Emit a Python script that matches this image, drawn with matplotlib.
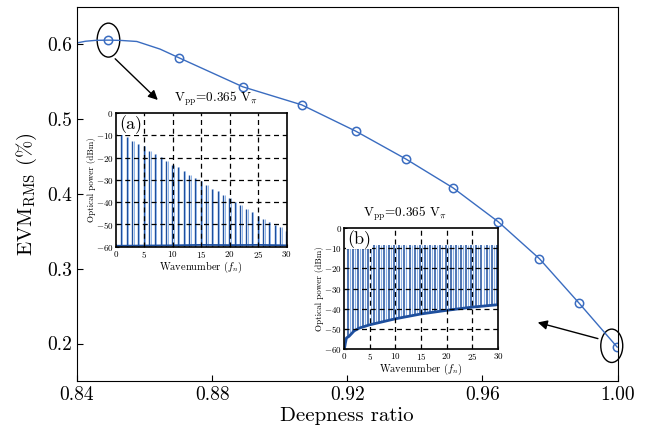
import matplotlib
matplotlib.use("Agg")
import matplotlib.pyplot as plt
from matplotlib.patches import Ellipse

plt.rcParams['font.family'] = 'serif'
plt.rcParams['font.serif'] = ['cmr10', 'DejaVu Serif']
plt.rcParams['mathtext.fontset'] = 'cm'
plt.rcParams['axes.formatter.use_mathtext'] = True

# main curve: EVM vs deepness ratio (markers)
ratio = [0.8493, 0.8702, 0.8891, 0.9065, 0.9225, 0.9374, 0.9513, 0.9647, 0.9769, 0.9886, 0.9999]
evm = [0.6047, 0.5811, 0.5424, 0.5184, 0.4833, 0.446, 0.4077, 0.3624, 0.3131, 0.254, 0.1953]
# line (extra points around the peak)
line_x = [0.84, 0.8425, 0.8455, 0.8493, 0.853, 0.8577, 0.8646, 0.8702, 0.8891, 0.9065,
          0.9225, 0.9374, 0.9513, 0.9647, 0.9769, 0.9886, 0.9999]
line_y = [0.601, 0.6032, 0.6044, 0.6047, 0.6043, 0.6029, 0.5927, 0.5811, 0.5424, 0.5184,
          0.4833, 0.446, 0.4077, 0.3624, 0.3131, 0.254, 0.1953]

xticks = [0.84, 0.88, 0.92, 0.96, 1.00]
xticklabels = ['0.84', '0.88', '0.92', '0.96', '1.00']
yticks = [0.2, 0.3, 0.4, 0.5, 0.6]
yticklabels = ['0.2', '0.3', '0.4', '0.5', '0.6']

# inset (a) spectrum: peak powers at wavenumbers 1..30
wn_a = list(range(1, 31))
pk_a = [-9, -10.8, -12.3, -13.8, -14.7, -16.8, -18.3, -19.8, -21.4, -23.2,
        -24.4, -25.9, -28, -29.2, -30.7, -32.2, -34, -35.2, -36.7, -38.2,
        -39.7, -41.2, -43, -44.5, -46, -47.7, -49, -50.2, -51.3, -52.8]
floor_a_x = [0, 5, 10, 15, 20, 25, 30]
floor_a_y = [-59.6, -59.5, -59.4, -59.2, -59.3, -59.2, -59.4]

# inset (b) spectrum: flat comb with rising noise floor
wn_b = [0.8 + i for i in range(30)]
pk_b = [-8.2] * 30
floor_b_x = [0.1, 0.3, 0.5, 1, 2, 3, 5, 10, 15, 20, 25, 30]
floor_b_y = [-60, -57, -54.5, -53.7, -51, -49.6, -48, -45, -42.6, -40.8, -39.2, -38]

blue = '#3a6cc0'
dark = '#1e4f9e'
light = '#8fb4e8'

fig = plt.figure(figsize=(6.5, 4.32), dpi=100)
ax = fig.add_axes([0.1185, 0.118, 0.8315, 0.866])
ax.plot(line_x, line_y, color=blue, lw=1.0)
ax.plot(ratio, evm, 'o', mfc='none', mec=blue, mew=1.1, ms=6)
ax.set_xlim(0.84, 1.0)
ax.set_ylim(0.15, 0.649)
ax.set_xticks(xticks)
ax.set_xticklabels(xticklabels)
ax.set_yticks(yticks)
ax.set_yticklabels(yticklabels)
ax.tick_params(direction='in', labelsize=14, length=4)
ax.set_xlabel('Deepness ratio', fontsize=15, labelpad=2)
ax.set_ylabel(r'EVM$_{\rm RMS}$ (%)', fontsize=15, labelpad=6)

# circles + arrows
ax.add_patch(Ellipse((0.8493, 0.6047), 0.0067, 0.0453, fill=False, ec='k', lw=1))
ax.add_patch(Ellipse((0.9983, 0.197), 0.0065, 0.0445, fill=False, ec='k', lw=1, clip_on=False))
ax.annotate('', xy=(0.8645, 0.5223), xytext=(0.8507, 0.5824),
            arrowprops=dict(arrowstyle='-|>', color='k', lw=1, mutation_scale=14))
ax.annotate('', xy=(0.9756, 0.2291), xytext=(0.995, 0.2056),
            arrowprops=dict(arrowstyle='-|>', color='k', lw=1, mutation_scale=14))


def inset(rect, label, title_x):
    a = fig.add_axes(rect)
    a.set_xlim(0, 30)
    a.set_ylim(-60, 0)
    a.set_xticks([0, 5, 10, 15, 20, 25, 30])
    a.set_yticks([-60, -50, -40, -30, -20, -10, 0])
    a.tick_params(direction='in', labelsize=6.5, length=2.5, pad=1.5)
    for v in [5, 10, 15, 20, 25]:
        a.axvline(v, color='k', ls=(0, (4, 3)), lw=0.9, zorder=3)
    for h in [-10, -20, -30, -40, -50]:
        a.axhline(h, color='k', ls=(0, (4, 3)), lw=0.9, zorder=3)
    a.set_xlabel(r'Wavenumber ($f_n$)', fontsize=7.5, labelpad=0)
    a.set_ylabel('Optical power (dBm)', fontsize=6.5, labelpad=0)
    a.text(0.02, 0.985, label, transform=a.transAxes, fontsize=13, va='top', ha='left',
           zorder=5, bbox=dict(fc='white', ec='none', pad=0.5))
    a.text(title_x, 1.04, r'V$_{\rm pp}$=0.365 V$_\pi$', transform=a.transAxes,
           fontsize=9.5, ha='center', va='bottom')
    for s in a.spines.values():
        s.set_linewidth(1.2)
    return a


axa = inset([0.178, 0.429, 0.263, 0.309], '(a)', 0.587)
axa.vlines([w - 0.1 for w in wn_a], -60, pk_a, color=dark, lw=1.0, zorder=2)
axa.vlines([w + 0.15 for w in wn_a], -60, pk_a, color=light, lw=0.7, zorder=2)
axa.plot(floor_a_x, floor_a_y, color=dark, lw=1.3, zorder=2)

axb = inset([0.529, 0.192, 0.237, 0.280], '(b)', 0.396)
axb.vlines(wn_b, -60, pk_b, color=dark, lw=1.1, zorder=2)
axb.vlines([w + 0.4 for w in wn_b], -60, pk_b, color=light, lw=0.8, zorder=2)
# blank out the comb below the noise floor
axb.fill_between(floor_b_x, -60, floor_b_y, color='white', lw=0, zorder=2.4)
axb.plot(floor_b_x, floor_b_y, color=dark, lw=2.0, zorder=2.5)

fig.savefig('out.png', dpi=100)
